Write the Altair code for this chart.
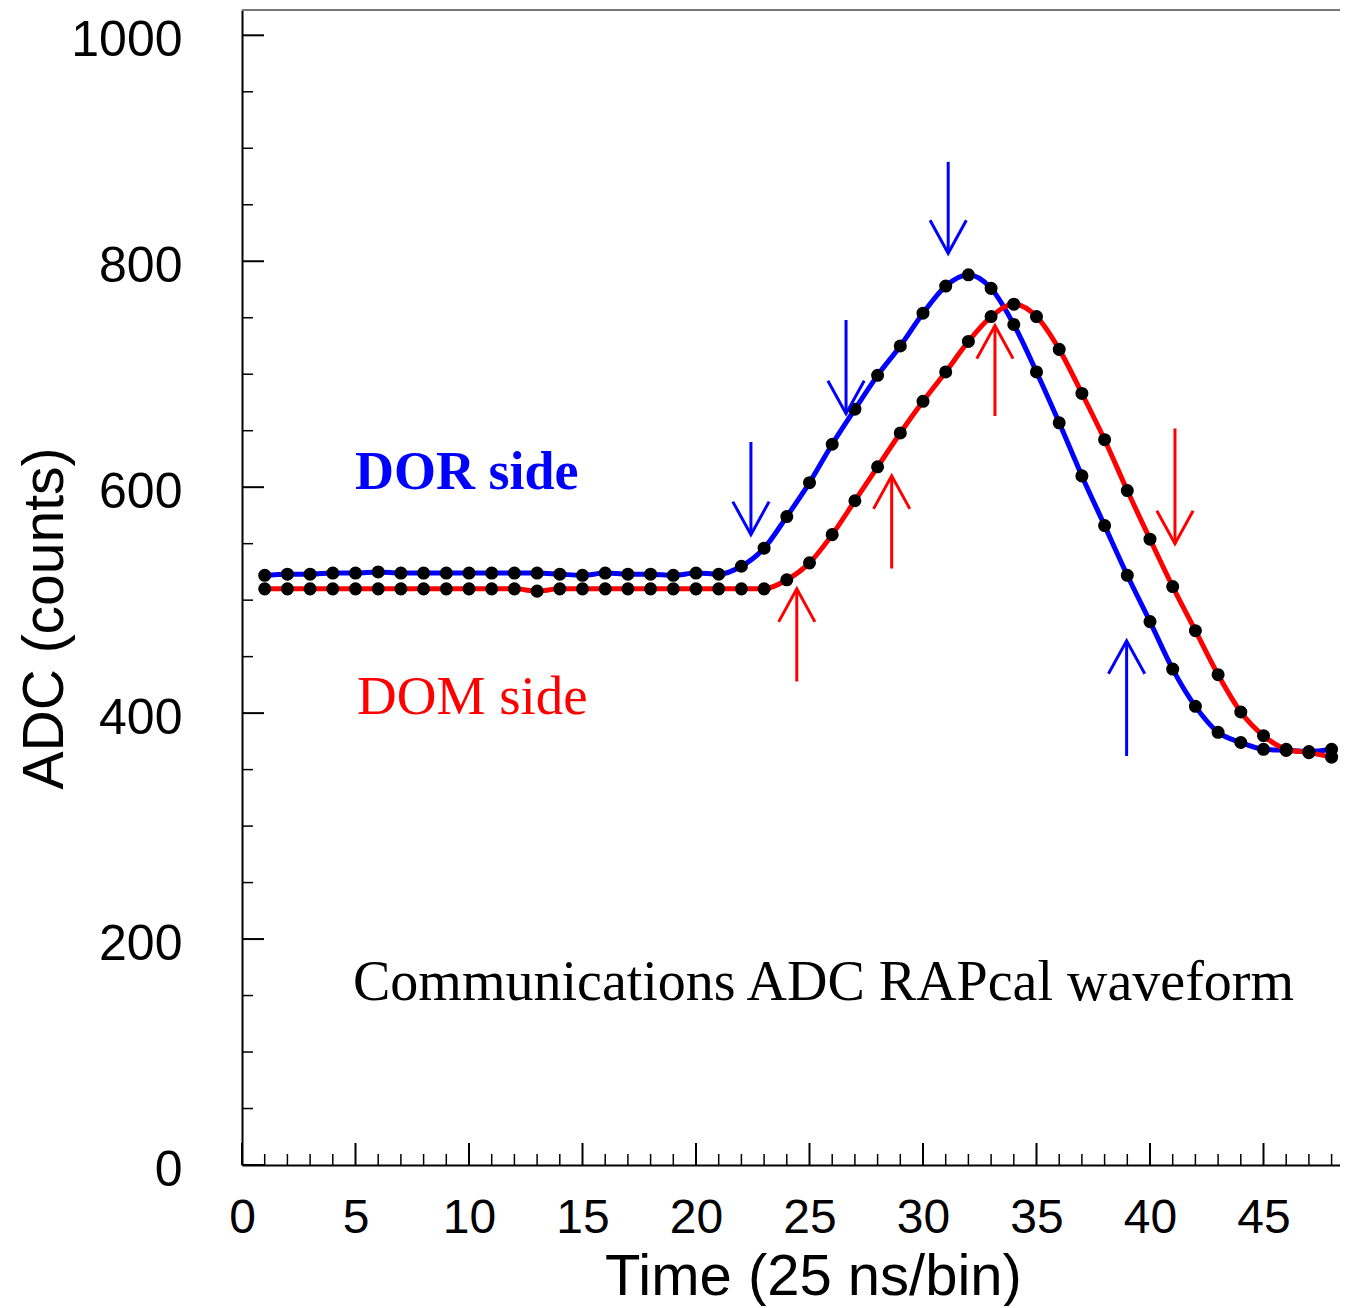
import altair as alt
import pandas as pd

# ---- data ----
time_bins = list(range(1, 49))
dor_adc = [522, 523, 523, 524, 524, 525, 524, 524, 524, 524, 524, 524, 524, 523, 522, 524,
           523, 523, 522, 524, 523, 530, 546, 574, 604, 638, 669, 699, 725, 754, 778, 788,
           776, 744, 702, 657, 610, 566, 522, 481, 439, 406, 383, 374, 368, 367, 366, 368]
dom_adc = [510, 510, 510, 510, 510, 510, 510, 510, 510, 510, 510, 510, 508, 510, 510, 510,
           510, 510, 510, 510, 510, 510, 510, 518, 533, 558, 588, 618, 648, 676, 702, 729,
           751, 762, 751, 722, 683, 642, 597, 554, 512, 473, 434, 401, 380, 368, 365, 361]

# arrows: x position, tail value, tip value, side
down_x = [22.42, 26.61, 31.11, 41.10]
down_from = [640, 748, 888, 652]
down_to = [558, 665, 807, 550]
down_side = ["DOR", "DOR", "DOR", "DOM"]

up_x = [38.97, 24.44, 28.62, 33.17]
up_from = [362, 428, 528, 663]
up_to = [464, 510, 610, 743]
up_side = ["DOR", "DOM", "DOM", "DOM"]

x_ticks_major = list(range(0, 46, 5))
x_ticks_minor = [v for v in range(1, 49) if v % 5 != 0]
y_ticks_major = list(range(0, 1001, 200))
y_ticks_minor = [v for v in range(50, 1001, 50) if v % 200 != 0]

W, H = 1098, 1155
XMAX, YMAX = 48.37, 1022.4

series = pd.DataFrame({
    "t": time_bins * 2,
    "adc": dor_adc + dom_adc,
    "side": ["DOR"] * len(dor_adc) + ["DOM"] * len(dom_adc),
})
down_df = pd.DataFrame({"x": down_x, "y0": down_from, "y1": down_to, "side": down_side})
up_df = pd.DataFrame({"x": up_x, "y0": up_from, "y1": up_to, "side": up_side})

xs = alt.Scale(domain=[0, XMAX], nice=False, zero=False)
ys = alt.Scale(domain=[0, YMAX], nice=False, zero=False)
cs = alt.Scale(domain=["DOR", "DOM"], range=["#0000ff", "#ff0000"])

x_axis = alt.Axis(values=x_ticks_major, title="Time (25 ns/bin)", ticks=False, tickSize=0,
                  grid=False, format="d", labelFont="Liberation Sans", labelFontSize=48,
                  labelColor="black", labelPadding=53, labelBaseline="middle", labelFlush=False,
                  domainColor="black", domainWidth=2,
                  titleFont="Liberation Sans", titleFontSize=58, titleFontWeight="normal",
                  titleColor="black", titleX=571, titleY=112, titleAlign="center",
                  titleBaseline="middle")
y_axis = alt.Axis(values=y_ticks_major, title="ADC (counts)", ticks=False, tickSize=0,
                  grid=False, format="d", labelFont="Liberation Sans", labelFontSize=50,
                  labelColor="black", labelPadding=60, labelBaseline="middle", labelAlign="right",
                  labelOffset=5, labelFlush=False, domainColor="black", domainWidth=2,
                  titleFont="Liberation Sans", titleFontSize=57, titleFontWeight="normal",
                  titleColor="black", titleX=-197, titleY=608, titleAlign="center",
                  titleBaseline="middle", titleAngle=270)


def X(field):
    return alt.X(field, scale=xs, axis=x_axis)


def Y(field):
    return alt.Y(field, scale=ys, axis=y_axis)


color = alt.Color("side:N", scale=cs, legend=None)

lines = alt.Chart(series).mark_line(strokeWidth=5, interpolate="monotone").encode(
    x=X("t:Q"), y=Y("adc:Q"), color=color, detail="side:N",
)
points = alt.Chart(series).mark_circle(size=170, color="black", opacity=1).encode(
    x=X("t:Q"), y=Y("adc:Q")
)

down_shaft = alt.Chart(down_df).mark_rule(strokeWidth=3).encode(
    x=X("x:Q"), y=Y("y0:Q"), y2="y1:Q", color=color)
down_head = alt.Chart(down_df).mark_point(shape="M-0.55,-1L0,0L0.55,-1", size=4356,
                                          filled=False, strokeWidth=3, opacity=1).encode(
    x=X("x:Q"), y=Y("y1:Q"), color=color)
up_shaft = alt.Chart(up_df).mark_rule(strokeWidth=3).encode(
    x=X("x:Q"), y=Y("y0:Q"), y2="y1:Q", color=color)
up_head = alt.Chart(up_df).mark_point(shape="M-0.55,1L0,0L0.55,1", size=4356,
                                      filled=False, strokeWidth=3, opacity=1).encode(
    x=X("x:Q"), y=Y("y1:Q"), color=color)


def label(text, x, y, col, size, weight):
    df = pd.DataFrame({"x": [x], "y": [y], "text": [text]})
    return alt.Chart(df).mark_text(font="Liberation Serif", fontSize=size, fontWeight=weight,
                                   color=col, align="left", baseline="alphabetic").encode(
        x=X("x:Q"), y=Y("y:Q"), text="text:N")


t_dor = label("DOR side", 4.98, 598, "#0000ff", 54, "bold")
t_dom = label("DOM side", 5.07, 399, "#ff0000", 55, "normal")
t_cap = label("Communications ADC RAPcal waveform", 4.89, 146, "black", 56, "normal")

ytm = alt.Chart(pd.DataFrame({"v": y_ticks_major})).mark_rule(color="black", strokeWidth=2).encode(
    y=Y("v:Q"), x=alt.value(0), x2=alt.value(22))
ytn = alt.Chart(pd.DataFrame({"v": y_ticks_minor})).mark_rule(color="black", strokeWidth=1.5).encode(
    y=Y("v:Q"), x=alt.value(0), x2=alt.value(11))
xtm = alt.Chart(pd.DataFrame({"v": x_ticks_major})).mark_rule(color="black", strokeWidth=2).encode(
    x=X("v:Q"), y=alt.value(H), y2=alt.value(H - 22))
xtn = alt.Chart(pd.DataFrame({"v": x_ticks_minor})).mark_rule(color="black", strokeWidth=1.5).encode(
    x=X("v:Q"), y=alt.value(H), y2=alt.value(H - 11))
top_line = alt.Chart(pd.DataFrame({"v": [0]})).mark_rule(color="#777777", strokeWidth=2).encode(
    x=alt.value(0), x2=alt.value(W), y=alt.value(0))

chart = alt.layer(
    lines, points, down_shaft, down_head, up_shaft, up_head,
    t_dor, t_dom, t_cap, ytm, ytn, xtm, xtn, top_line
).properties(
    width=W, height=H,
    autosize=alt.AutoSizeParams(type="none"),
    padding={"left": 234, "top": 2, "right": 0, "bottom": 141},
).configure_view(strokeWidth=0).configure(background="white")

chart.save("out.html", embed_options={"renderer": "svg", "actions": False})
